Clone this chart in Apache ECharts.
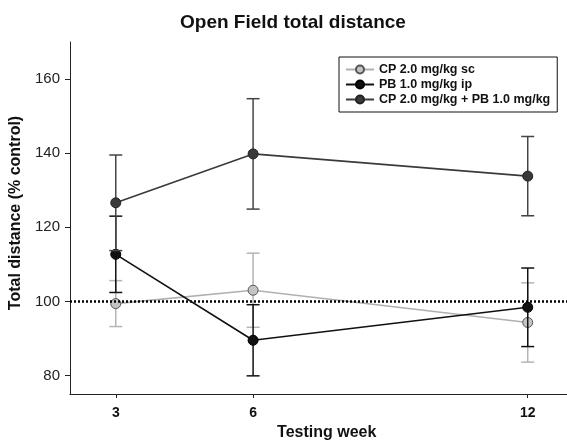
<!DOCTYPE html>
<html>
<head>
<meta charset="utf-8">
<script src="https://cdn.jsdelivr.net/npm/echarts@6/dist/echarts.min.js"></script>
<style>html,body{margin:0;padding:0;background:#fff}#c{width:567px;height:441px}</style>
</head>
<body>
<div id="c"></div>
<script>
var weeks = [3, 6, 12];
var seriesNames = ['CP 2.0 mg/kg sc', 'PB 1.0 mg/kg ip', 'CP 2.0 mg/kg + PB 1.0 mg/kg'];
var cpMean = [99.4, 103.0, 94.3];
var cpErr = [6.2, 10.0, 10.7];
var pbMean = [112.7, 89.5, 98.4];
var pbErr = [10.3, 9.6, 10.6];
var comboMean = [126.6, 139.8, 133.8];
var comboErr = [12.9, 14.9, 10.7];
var yTicks = [80, 100, 120, 140, 160];
var xTicks = [3, 6, 12];
var refValue = 100;

var FONT = '"Liberation Sans", Arial, sans-serif';

function pts(mean) { return weeks.map(function (w, i) { return [w, mean[i]]; }); }
function errPts(mean, err) { return weeks.map(function (w, i) { return [w, mean[i] - err[i], mean[i] + err[i]]; }); }

function errSeries(name, mean, err, color, z) {
  return {
    type: 'custom',
    name: name + ' err',
    z: z,
    data: errPts(mean, err),
    renderItem: function (params, api) {
      var x = api.value(0), lo = api.value(1), hi = api.value(2);
      var pLo = api.coord([x, lo]), pHi = api.coord([x, hi]);
      var cw = 6.5;
      var st = { stroke: color, lineWidth: 1.5 };
      return {
        type: 'group',
        children: [
          { type: 'line', shape: { x1: pLo[0], y1: pLo[1], x2: pHi[0], y2: pHi[1] }, style: st },
          { type: 'line', shape: { x1: pLo[0] - cw, y1: pLo[1], x2: pLo[0] + cw, y2: pLo[1] }, style: st },
          { type: 'line', shape: { x1: pHi[0] - cw, y1: pHi[1], x2: pHi[0] + cw, y2: pHi[1] }, style: st }
        ]
      };
    }
  };
}

function lineSeries(name, mean, lineColor, fill, border, z, extra) {
  var s = {
    type: 'line',
    name: name,
    z: z,
    data: pts(mean),
    symbol: 'circle',
    symbolSize: 10,
    lineStyle: { color: lineColor, width: 1.6 },
    itemStyle: { color: fill, borderColor: border, borderWidth: 1 },
    emphasis: { disabled: true },
    animation: false
  };
  if (extra) for (var k in extra) s[k] = extra[k];
  return s;
}

var chart = echarts.init(document.getElementById('c'));
chart.setOption({
  animation: false,
  backgroundColor: '#fff',
  title: {
    text: 'Open Field total distance',
    left: 175, top: 8,
    textStyle: { fontFamily: FONT, fontWeight: 'bold', fontSize: 19, color: '#111' }
  },
  legend: {
    data: seriesNames,
    orient: 'vertical',
    left: 339, top: 57,
    padding: [6, 7, 6, 6],
    itemGap: 2,
    itemWidth: 28, itemHeight: 10,
    borderColor: '#111', borderWidth: 1,
    textStyle: { fontFamily: FONT, fontWeight: 'bold', fontSize: 12.5, lineHeight: 13, color: '#111' }
  },
  grid: { left: 70, right: -6.5, top: 42, bottom: 47, containLabel: false, outerBoundsMode: 'none' },
  xAxis: {
    type: 'value', min: 2, max: 13,
    name: 'Testing week', nameLocation: 'middle', nameGap: 29,
    nameTextStyle: { fontFamily: FONT, fontWeight: 'bold', fontSize: 16, color: '#111', padding: [0, 0, 0, 10] },
    axisLine: { show: true, lineStyle: { color: '#222', width: 1 } },
    axisTick: { show: true, length: 4, customValues: xTicks, lineStyle: { color: '#222' } },
    axisLabel: { customValues: xTicks, margin: 12, fontFamily: FONT, fontWeight: 'bold', fontSize: 14, color: '#111' },
    splitLine: { show: false }
  },
  yAxis: {
    type: 'value', min: 75, max: 170,
    name: 'Total distance (% control)', nameLocation: 'middle', nameGap: 43,
    nameTextStyle: { fontFamily: FONT, fontWeight: 'bold', fontSize: 16, color: '#111', padding: [0, 0, 0, 10] },
    axisLine: { show: true, lineStyle: { color: '#222', width: 1 } },
    axisTick: { show: true, length: 5, customValues: yTicks, lineStyle: { color: '#222' } },
    axisLabel: { customValues: yTicks, margin: 10, fontFamily: FONT, fontSize: 15, color: '#222' },
    splitLine: { show: false }
  },
  series: [
    errSeries(seriesNames[0], cpMean, cpErr, '#b5b5b5', 2),
    lineSeries(seriesNames[0], cpMean, '#b0b0b0', '#c4c4c4', '#555', 3, {
      markLine: {
        silent: true, symbol: 'none', label: { show: false },
        lineStyle: { color: '#000', width: 2.5, type: [2, 2] },
        data: [{ yAxis: refValue }]
      }
    }),
    errSeries(seriesNames[1], pbMean, pbErr, '#111', 4),
    lineSeries(seriesNames[1], pbMean, '#111', '#111', '#000', 5),
    errSeries(seriesNames[2], comboMean, comboErr, '#444', 6),
    lineSeries(seriesNames[2], comboMean, '#3a3a3a', '#3a3a3a', '#222', 7)
  ]
});
</script>
</body>
</html>
